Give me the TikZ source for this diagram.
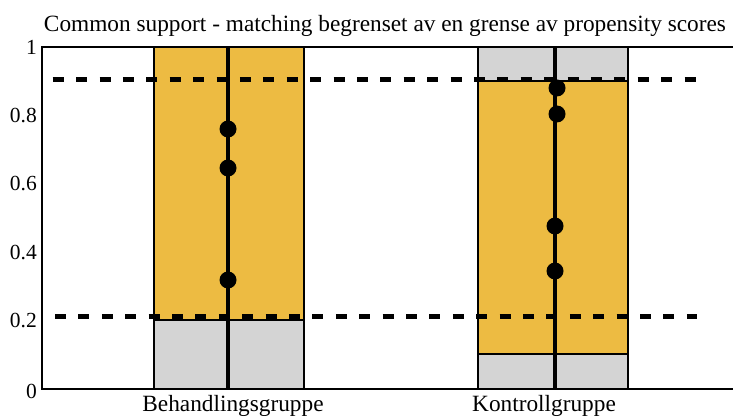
\documentclass[tikz,border=0pt]{standalone}
\usepackage{fontspec}
\setmainfont{Liberation Serif}
\definecolor{boxorange}{HTML}{EDBB42}
\definecolor{boxgray}{HTML}{D4D4D4}
\tikzset{
  lbl/.style={font=\fontsize{23.3}{26}\selectfont, inner sep=0pt},
  tick/.style={font=\fontsize{21.5}{24}\selectfont, inner sep=0pt, anchor=east},
  cell/.style={draw=black, line width=1.8pt},
  stem/.style={line width=3.2pt},
  limit/.style={line width=5pt, dash pattern=on 11pt off 12.4pt},
  dot/.style={circle, fill=black, inner sep=0pt, minimum size=17pt},
}
\begin{document}
\begin{tikzpicture}[x=1pt,y=-1pt]
\useasboundingbox (0,0) rectangle (733,417);
% frame
\draw[line width=1.8pt] (735,47) -- (42,47) -- (42,389) -- (735,389);
% tick labels
\node[tick] (t1) at (37,47) {1};
\node[tick] (t08) at (37,115.4) {0.8};
\node[tick] (t06) at (37,183.8) {0.6};
\node[tick] (t04) at (37,252.2) {0.4};
\node[tick] (t02) at (37,320.6) {0.2};
\node[tick] (t0) at (37,391) {0};
% title
\node[lbl] (title) at (385,26) {Common support - matching begrenset av en grense av propensity scores};
% left group
\fill[boxorange] (154,47) rectangle (304,320);
\fill[boxgray] (154,320) rectangle (304,389);
\draw[cell] (154,47) rectangle (304,389);
\draw[cell] (154,320) -- (304,320);
% right group
\fill[boxgray] (478,47) rectangle (628,81);
\fill[boxorange] (478,81) rectangle (628,354);
\fill[boxgray] (478,354) rectangle (628,389);
\draw[cell] (478,47) rectangle (628,389);
\draw[cell] (478,81) -- (628,81);
\draw[cell] (478,354) -- (628,354);
% stems
\draw[stem] (228,47) -- (228,389);
\draw[stem] (555,47) -- (555,389);
% limits
\draw[limit] (52.7,80) -- (697,80);
\draw[limit] (55,316) -- (697,316);
% dots
\node[dot] (a1) at (228,129) {};
\node[dot] (a2) at (228,168) {};
\node[dot] (a3) at (228,280) {};
\node[dot] (b1) at (557,88) {};
\node[dot] (b2) at (557,114) {};
\node[dot] (b3) at (555,226) {};
\node[dot] (b4) at (555,271) {};
% group labels
\node[lbl] (g1) at (233,406) {Behandlingsgruppe};
\node[lbl] (g2) at (544,406) {Kontrollgruppe};
\end{tikzpicture}
\end{document}
